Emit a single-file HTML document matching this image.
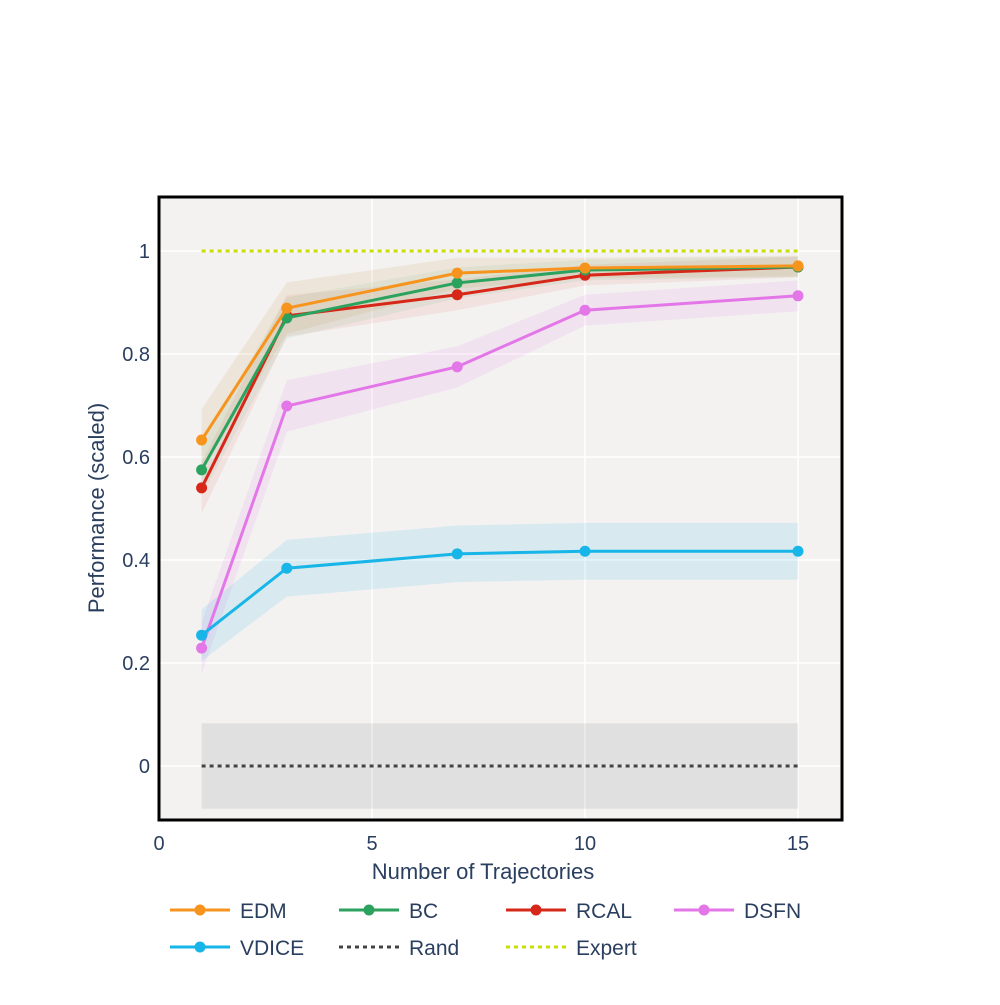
<!DOCTYPE html>
<html><head><meta charset="utf-8"><style>
body{margin:0;background:#fff;font-family:"Liberation Sans",Arial,sans-serif}
svg text{font-family:"Liberation Sans",Arial,sans-serif;fill:#2a3f5f}
</style></head><body>
<svg id="chart" width="1000" height="1000"></svg>
<script>
const xs=[1,3,7,10,15];
const edm=[0.633,0.889,0.957,0.967,0.971];
const bc=[0.575,0.870,0.938,0.963,0.969];
const rcal=[0.540,0.874,0.915,0.953,0.969];
const dsfn=[0.229,0.699,0.775,0.885,0.913];
const vdice=[0.254,0.384,0.412,0.417,0.417];
const edmStd=[0.06,0.05,0.03,0.02,0.02];
const bcStd=[0.05,0.04,0.03,0.02,0.02];
const rcalStd=[0.05,0.04,0.03,0.02,0.02];
const dsfnStd=[0.05,0.05,0.04,0.03,0.03];
const vdiceStd=[0.05,0.055,0.055,0.055,0.055];
const randVal=0, randStd=0.083, expertVal=1;
const xTicks=[0,5,10,15];
const yTicks=[0,0.2,0.4,0.6,0.8,1];
const yTickLabels=["0","0.2","0.4","0.6","0.8","1"];

const L=159,R=842,T=197,B=820;
const X=v=>159+v*42.6;
const Y=v=>766-v*515;
const svg=document.getElementById('chart');
const NS='http://www.w3.org/2000/svg';
function el(tag,attrs,parent){const e=document.createElementNS(NS,tag);for(const k in attrs)e.setAttribute(k,attrs[k]);(parent||svg).appendChild(e);return e;}

const bg=el('rect',{x:L,y:T,width:R-L,height:B-T,fill:'#f3f2f1'});


const grid=el('g',{});


xTicks.forEach(t=>el('line',{x1:X(t),x2:X(t),y1:T,y2:B,stroke:'#fff','stroke-width':1.5},grid));
yTicks.forEach(t=>el('line',{x1:L,x2:R,y1:Y(t),y2:Y(t),stroke:'#fff','stroke-width':1.5},grid));

// Rand band
const rb=el('rect',{x:X(1),y:Y(randVal+randStd),width:X(15)-X(1),height:Y(randVal-randStd)-Y(randVal+randStd),fill:'rgba(0,0,0,0.07)'});



const series=[
 {n:'dsfn',v:dsfn,s:dsfnStd,c:'#e377e8',f:'rgba(227,119,232,0.12)'},
 {n:'vdice',v:vdice,s:vdiceStd,c:'#17b5e8',f:'rgba(23,181,232,0.12)'},
 {n:'rcal',v:rcal,s:rcalStd,c:'#d62718',f:'rgba(214,39,24,0.08)'},
 {n:'bc',v:bc,s:bcStd,c:'#2ca25f',f:'rgba(44,162,95,0.08)'},
 {n:'edm',v:edm,s:edmStd,c:'#f7941d',f:'rgba(200,140,60,0.12)'}
];
series.forEach(o=>{
 let d='';xs.forEach((x,i)=>d+=(i?'L':'M')+X(x)+','+Y(o.v[i]+o.s[i]));
 for(let i=xs.length-1;i>=0;i--)d+='L'+X(xs[i])+','+Y(o.v[i]-o.s[i]);
 const p=el('path',{d:d+'Z',fill:o.f});
 
 
});
const rl=el('line',{x1:X(1),x2:X(15),y1:Y(randVal),y2:Y(randVal),stroke:'#444','stroke-width':3,'stroke-dasharray':'4,4'});


const elx=el('line',{x1:X(1),x2:X(15),y1:Y(expertVal),y2:Y(expertVal),stroke:'#c8e000','stroke-width':3,'stroke-dasharray':'4,4'});


series.forEach(o=>{
 const g=el('g',{});
 
 
 el('polyline',{points:xs.map((x,i)=>X(x)+','+Y(o.v[i])).join(' '),fill:'none',stroke:o.c,'stroke-width':3},g);
 xs.forEach((x,i)=>{const c=el('circle',{cx:X(x),cy:Y(o.v[i]),r:5.5,fill:o.c},g);
  
  });
});
const frame=el('rect',{x:L,y:T,width:R-L,height:B-T,fill:'none',stroke:'#000','stroke-width':3});


xTicks.forEach(t=>{const tx=el('text',{x:X(t),y:850,'font-size':20,'text-anchor':'middle'});tx.textContent=t;
 
 });
yTicks.forEach((t,i)=>{const tx=el('text',{x:150,y:Y(t)+7,'font-size':20,'text-anchor':'end'});tx.textContent=yTickLabels[i];
 
 });
const xt=el('text',{x:483,y:879,'font-size':22,'text-anchor':'middle'});xt.textContent='Number of Trajectories';


const yt=el('text',{x:104,y:508,'font-size':22,'text-anchor':'middle',transform:'rotate(-90 104 508)'});yt.textContent='Performance (scaled)';



const legendNames=['EDM','BC','RCAL','DSFN','VDICE','Rand','Expert'];
const legendColors=['#f7941d','#2ca25f','#d62718','#e377e8','#17b5e8','#444','#c8e000'];
const legendPos=[[170,910],[339,910],[506,910],[674,910],[170,947],[339,947],[506,947]];
legendNames.forEach((n,i)=>{
 const g=el('g',{});
 
 
 const [lx,ly]=legendPos[i];
 const dashed=i>=5;
 el('line',{x1:lx,x2:lx+60,y1:ly,y2:ly,stroke:legendColors[i],'stroke-width':3,'stroke-dasharray':dashed?'4,4':'none'},g);
 if(!dashed)el('circle',{cx:lx+30,cy:ly,r:5.5,fill:legendColors[i]},g);
 const t=el('text',{x:lx+70,y:ly+8,'font-size':21},g);t.textContent=n;
});
</script>
</body></html>
